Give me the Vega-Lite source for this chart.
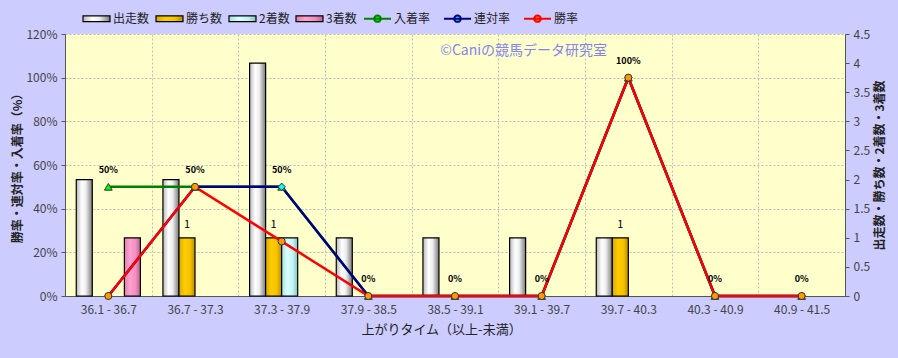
{
  "$schema": "https://vega.github.io/schema/vega-lite/v6.json",
  "width": 780,
  "height": 262,
  "autosize": {"type": "none"},
  "padding": {"left": 65, "top": 34, "right": 53, "bottom": 62},
  "background": "#CCCCFF",
  "config": {
    "font": "Noto Sans CJK JP",
    "view": {"fill": "#FFFFCC", "stroke": null},
    "axis": {"labelFont": "Noto Sans CJK JP", "titleFont": "Noto Sans CJK JP"},
    "legend": {"labelFont": "Noto Sans CJK JP"}
  },
  "datasets": {
    "main": [
      {"区分": "36.1 - 36.7", "出走数": 2, "勝ち数": 0, "2着数": 0, "3着数": 1, "勝率": 0, "連対率": 0, "入着率": 0.5},
      {"区分": "36.7 - 37.3", "出走数": 2, "勝ち数": 1, "2着数": 0, "3着数": 0, "勝率": 0.5, "連対率": 0.5, "入着率": 0.5},
      {"区分": "37.3 - 37.9", "出走数": 4, "勝ち数": 1, "2着数": 1, "3着数": 0, "勝率": 0.25, "連対率": 0.5, "入着率": 0.5},
      {"区分": "37.9 - 38.5", "出走数": 1, "勝ち数": 0, "2着数": 0, "3着数": 0, "勝率": 0, "連対率": 0, "入着率": 0},
      {"区分": "38.5 - 39.1", "出走数": 1, "勝ち数": 0, "2着数": 0, "3着数": 0, "勝率": 0, "連対率": 0, "入着率": 0},
      {"区分": "39.1 - 39.7", "出走数": 1, "勝ち数": 0, "2着数": 0, "3着数": 0, "勝率": 0, "連対率": 0, "入着率": 0},
      {"区分": "39.7 - 40.3", "出走数": 1, "勝ち数": 1, "2着数": 0, "3着数": 0, "勝率": 1, "連対率": 1, "入着率": 1},
      {"区分": "40.3 - 40.9", "出走数": 0, "勝ち数": 0, "2着数": 0, "3着数": 0, "勝率": 0, "連対率": 0, "入着率": 0},
      {"区分": "40.9 - 41.5", "出走数": 0, "勝ち数": 0, "2着数": 0, "3着数": 0, "勝率": 0, "連対率": 0, "入着率": 0}
    ]
  },
  "data": {"name": "main"},
  "resolve": {"scale": {"y": "independent", "fill": "independent", "stroke": "independent"}},
  "layer": [
    {
      "transform": [{"fold": ["出走数", "勝ち数", "2着数", "3着数"], "as": ["項目", "件数"]}, {"filter": "datum['件数'] > 0"}],
      "encoding": {
        "x": {"field": "区分", "type": "nominal"},
        "xOffset": {"field": "項目", "type": "nominal", "scale": {"domain": ["出走数", "勝ち数", "2着数", "3着数"], "paddingInner": 0, "paddingOuter": 0}},
        "y": {"field": "件数", "type": "quantitative"}
      },
      "layer": [
        {
          "mark": {"type": "bar", "stroke": "#000000", "strokeWidth": 1.2},
          "encoding": {
            "x": {
              "field": "区分", "type": "nominal",
              "scale": {"domain": ["36.1 - 36.7", "36.7 - 37.3", "37.3 - 37.9", "37.9 - 38.5", "38.5 - 39.1", "39.1 - 39.7", "39.7 - 40.3", "40.3 - 40.9", "40.9 - 41.5"], "paddingInner": 0.26, "paddingOuter": 0.13},
              "axis": {
                "title": "上がりタイム（以上-未満）", "titleX": 376, "labelAngle": 0, "bandPosition": 0, "tickOffset": -11.27, "labelOffset": 11.27,
                "grid": true, "gridColor": "#BBBBBB", "gridDash": [2, 2], "ticks": false,
                "domainColor": "#555555", "labelColor": "#444444", "labelFontSize": 12, "labelPadding": 8,
                "titleFontSize": 13, "titleFontWeight": "normal", "titleColor": "#222222", "titlePadding": 8
              }
            },
            "y": {
              "field": "件数", "type": "quantitative",
              "scale": {"domain": [0, 4.5], "nice": false},
              "axis": {
                "orient": "right", "title": "出走数・勝ち数・2着数・3着数", "titleAngle": 270, "titleBaseline": "top",
                "tickCount": 10, "format": ".1~f", "grid": false,
                "labelOverlap": false, "labelAngle": 0,
                "domainColor": "#555555", "tickColor": "#555555", "tickSize": 4, "labelPadding": 4,
                "labelColor": "#444444", "labelFontSize": 12,
                "titleFontSize": 12, "titleFontWeight": "bold", "titleColor": "#222222", "titlePadding": 5
              }
            },
            "fill": {
              "field": "項目", "type": "nominal",
              "scale": {
                "domain": ["出走数", "勝ち数", "2着数", "3着数"],
                "range": [
                  {"expr": "{gradient: 'linear', x1: 0, y1: 0, x2: 1, y2: 0, stops: [{offset: 0, color: '#B8B8B8'}, {offset: 0.35, color: '#FFFFFF'}, {offset: 0.6, color: '#EEEEEE'}, {offset: 1, color: '#7A7A7A'}]}"},
                  {"expr": "{gradient: 'linear', x1: 0, y1: 0, x2: 1, y2: 0, stops: [{offset: 0, color: '#D8A800'}, {offset: 0.35, color: '#FFCC00'}, {offset: 0.7, color: '#F5C200'}, {offset: 1, color: '#B88C00'}]}"},
                  {"expr": "{gradient: 'linear', x1: 0, y1: 0, x2: 1, y2: 0, stops: [{offset: 0, color: '#A8E0E0'}, {offset: 0.35, color: '#D8FFFF'}, {offset: 0.7, color: '#C4F4F4'}, {offset: 1, color: '#80C0C0'}]}"},
                  {"expr": "{gradient: 'linear', x1: 0, y1: 0, x2: 1, y2: 0, stops: [{offset: 0, color: '#E080B0'}, {offset: 0.35, color: '#FFA0D0'}, {offset: 0.7, color: '#F090C0'}, {offset: 1, color: '#C06090'}]}"}
                ]
              },
              "legend": {
                "orient": "none", "legendX": 17, "legendY": -30, "direction": "horizontal", "title": null,
                "symbolType": "M-1,-0.22H1V0.22H-1Z", "symbolSize": 729, "symbolStrokeColor": "#000000", "symbolStrokeWidth": 1.2,
                "labelFontSize": 12, "labelColor": "#222222", "labelOffset": 2, "columnPadding": 3
              }
            }
          }
        },
        {
          "transform": [{"filter": "datum['項目'] === '勝ち数'"}],
          "mark": {"type": "text", "dy": -13, "fontSize": 11, "color": "#000000"},
          "encoding": {
            "text": {"field": "件数", "type": "quantitative"}
          }
        }
      ]
    },
    {
      "transform": [{"fold": ["入着率", "連対率", "勝率"], "as": ["系列", "率"]}],
      "layer": [
        {
          "mark": {"type": "line", "strokeWidth": 2.5},
          "encoding": {
            "x": {"field": "区分", "type": "nominal"},
            "y": {
              "field": "率", "type": "quantitative",
              "scale": {"domain": [0, 1.2], "nice": false},
              "axis": {
                "orient": "left", "title": "勝率・連対率・入着率（%）",
                "values": [0, 0.2, 0.4, 0.6, 0.8, 1, 1.2], "format": ".0%",
                "grid": true, "gridColor": "#BBBBBB", "gridDash": [2, 2],
                "domainColor": "#555555", "tickColor": "#555555", "tickSize": 4, "labelPadding": 4,
                "labelColor": "#444444", "labelFontSize": 12,
                "titleFontSize": 12, "titleFontWeight": "bold", "titleColor": "#222222", "titlePadding": 1
              }
            },
            "stroke": {
              "field": "系列", "type": "nominal",
              "scale": {"domain": ["入着率", "連対率", "勝率"], "range": ["#008000", "#000080", "#FF0000"]},
              "legend": {
                "orient": "none", "legendX": 298, "legendY": -30, "direction": "horizontal", "title": null,
                "symbolType": "M-1,0L1,0M0.24,0A0.24,0.24,0,1,1,-0.24,0A0.24,0.24,0,1,1,0.24,0Z",
                "symbolSize": 729, "symbolStrokeWidth": 2,
                "labelFontSize": 12, "labelColor": "#222222", "labelOffset": 2, "columnPadding": 9
              }
            }
          }
        },
        {
          "transform": [{"filter": "datum['系列'] === '入着率'"}],
          "mark": {"type": "point", "shape": "triangle-up", "filled": true, "size": 60, "stroke": "#333333", "strokeWidth": 1, "opacity": 1},
          "encoding": {
            "x": {"field": "区分", "type": "nominal"},
            "y": {"field": "率", "type": "quantitative"},
            "fill": {"field": "系列", "type": "nominal", "scale": {"domain": ["入着率", "連対率", "勝率"], "range": ["#00FF00", "#00FFFF", "#FF9900"]}}
          }
        },
        {
          "transform": [{"filter": "datum['系列'] === '連対率'"}],
          "mark": {"type": "point", "shape": "diamond", "filled": true, "size": 55, "stroke": "#333333", "strokeWidth": 1, "opacity": 1},
          "encoding": {
            "x": {"field": "区分", "type": "nominal"},
            "y": {"field": "率", "type": "quantitative"},
            "fill": {"field": "系列", "type": "nominal"}
          }
        },
        {
          "transform": [{"filter": "datum['系列'] === '勝率'"}],
          "mark": {"type": "point", "shape": "circle", "filled": true, "size": 50, "stroke": "#333333", "strokeWidth": 1, "opacity": 1},
          "encoding": {
            "x": {"field": "区分", "type": "nominal"},
            "y": {"field": "率", "type": "quantitative"},
            "fill": {"field": "系列", "type": "nominal"}
          }
        },
        {
          "transform": [{"filter": "datum['系列'] === '入着率'"}],
          "mark": {"type": "text", "dy": -17, "fontSize": 9, "fontWeight": "bold", "color": "#000000"},
          "encoding": {
            "x": {"field": "区分", "type": "nominal"},
            "y": {"field": "率", "type": "quantitative"},
            "text": {"field": "率", "type": "quantitative", "format": ".0%"}
          }
        }
      ]
    },
    {
      "data": {"values": [{"文字": "©Caniの競馬データ研究室"}]},
      "mark": {"type": "text", "fontSize": 14, "color": "#8484F0", "dx": -18},
      "encoding": {
        "x": {"datum": "39.1 - 39.7", "type": "nominal"},
        "y": {"datum": 1.12, "type": "quantitative", "scale": {"domain": [0, 1.2], "nice": false}, "axis": null},
        "text": {"field": "文字", "type": "nominal"}
      }
    }
  ]
}
